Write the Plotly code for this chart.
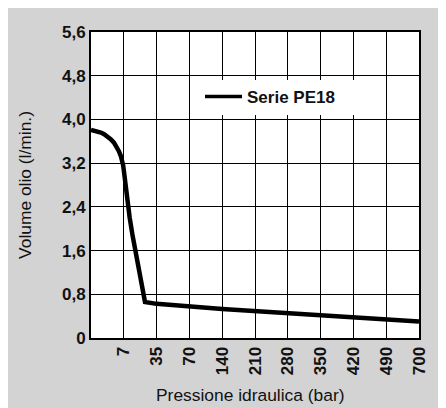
import plotly.graph_objects as go

# Data (x as position on the evenly spaced pressure scale, 0 = origin)
x_pos = [0, 0.10, 0.20, 0.30, 0.40, 0.50, 0.60, 0.70, 0.78, 0.85, 0.91, 0.95, 0.98, 1.00,
         1.05, 1.11, 1.18, 1.26, 1.35, 1.47, 1.585, 1.646, 2.0, 3.0, 4.0, 7.0, 10.0]
flow = [3.81, 3.80, 3.785, 3.76, 3.73, 3.69, 3.64, 3.575, 3.50, 3.42, 3.33, 3.25, 3.16, 3.07,
        2.80, 2.50, 2.20, 1.90, 1.60, 1.20, 0.80, 0.66, 0.625, 0.575, 0.53, 0.415, 0.30]
x_tick_pos = [1, 2, 3, 4, 5, 6, 7, 8, 9, 10]
x_tick_labels = ["7", "35", "70", "140", "210", "280", "350", "420", "490", "700"]
y_tick_vals = [0, 0.8, 1.6, 2.4, 3.2, 4.0, 4.8, 5.6]
y_tick_labels = ["0", "0,8", "1,6", "2,4", "3,2", "4,0", "4,8", "5,6"]
series_name = "Serie PE18"

W, H = 446, 408
OX, OY = 8, 9  # page offset of the figure
# plot area in screen pixels
PL, PR, PT, PB = 91, 419, 33, 339
L, T = PL - OX, PT - OY
R, B = W - (PR - OX), H - (PB - OY)
pw, ph = PR - PL, PB - PT

def px_x(px):
    return (px - PL) / pw

def px_y(py):
    return (PB - py) / ph

GRAY = "#d3d3d3"
bold_font = dict(family="Liberation Sans, Arial, sans-serif", size=17, color="#111111", weight="bold")
title_font = dict(family="Liberation Sans, Arial, sans-serif", size=17.4, color="#111111")

fig = go.Figure()
fig.add_trace(go.Scatter(
    x=x_pos, y=flow, mode="lines", name=series_name,
    line=dict(color="black", width=4.5),
    showlegend=False, legendgroup="s",
))
# legend entry (thinner sample line, as in the original key)
fig.add_trace(go.Scatter(
    x=[None], y=[None], mode="lines", name=series_name,
    line=dict(color="black", width=3.5),
    showlegend=True, legendgroup="s", hoverinfo="skip",
))

fig.update_layout(
    width=W, height=H,
    margin=dict(l=L, r=R, t=T, b=B, pad=0, autoexpand=False),
    paper_bgcolor=GRAY,
    plot_bgcolor="white",
    showlegend=True,
    legend=dict(
        x=px_x(200), y=px_y(98), xanchor="left", yanchor="middle",
        bgcolor="rgba(0,0,0,0)", borderwidth=0,
        font=bold_font, itemwidth=37,
    ),
    shapes=[
        # legend box
        dict(type="rect", xref="paper", yref="paper",
             x0=px_x(191), x1=px_x(357), y0=px_y(116), y1=px_y(81),
             fillcolor="white", line=dict(width=0), layer="above"),
    ],
    annotations=[
        dict(text="Pressione idraulica (bar)", xref="paper", yref="paper",
             x=px_x(249.5), y=px_y(396), xanchor="center", yanchor="middle",
             showarrow=False, font=title_font),
    ],
)

fig.update_xaxes(
    range=[0, 10], tickmode="array", tickvals=x_tick_pos, ticktext=x_tick_labels,
    tickangle=-90, tickfont=bold_font, ticks="",
    showgrid=True, gridcolor="black", gridwidth=1, zeroline=False,
    showline=True, linecolor="black", linewidth=2, mirror=True,
    automargin=False, fixedrange=True,
)
fig.update_yaxes(
    range=[0, 5.6], tickmode="array", tickvals=y_tick_vals, ticktext=y_tick_labels,
    tickfont=bold_font, ticks="",
    showgrid=True, gridcolor="black", gridwidth=1, zeroline=False,
    showline=True, linecolor="black", linewidth=2, mirror=True,
    title=dict(text="Volume olio (l/min.)", font=title_font, standoff=26),
    automargin=False, fixedrange=True,
)

fig.write_html("out.html", config=dict(displayModeBar=False))
